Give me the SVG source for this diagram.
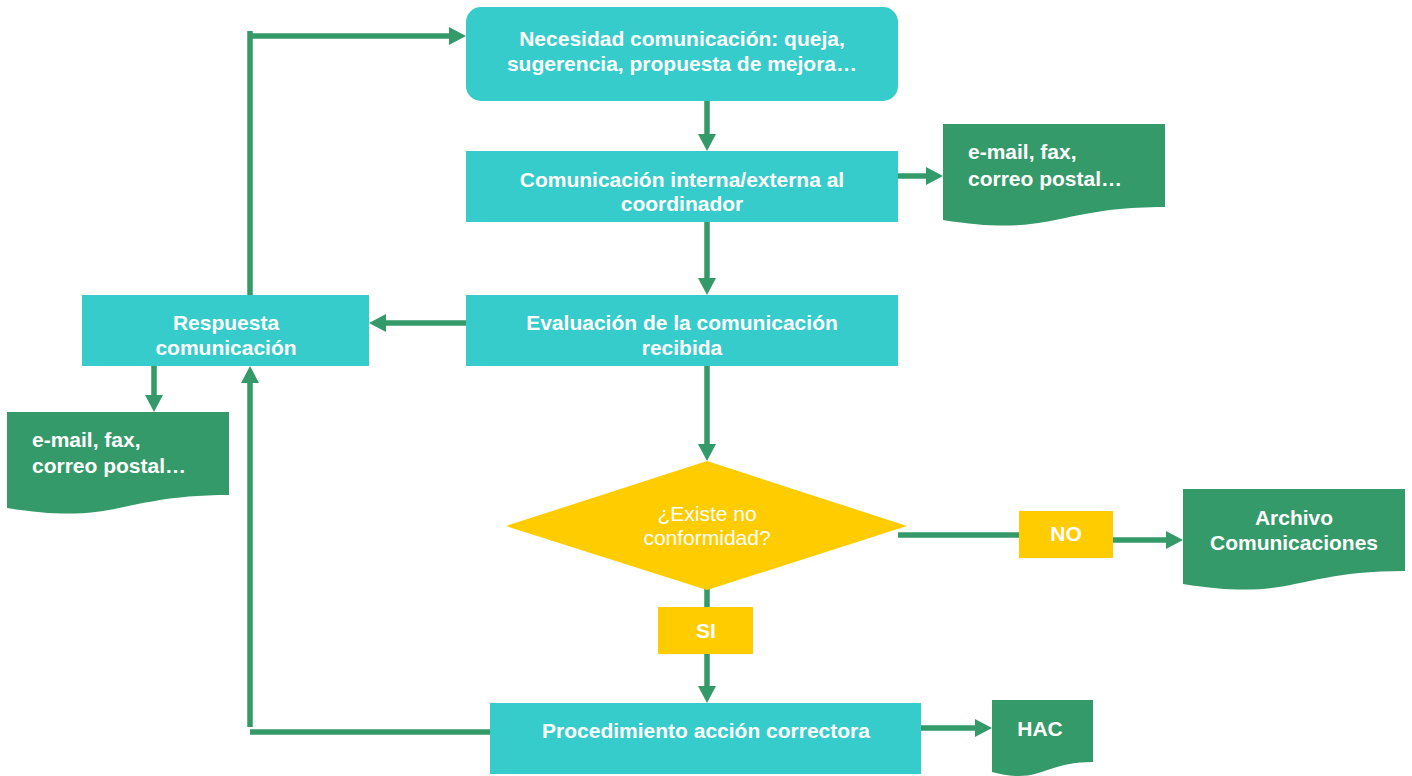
<svg xmlns="http://www.w3.org/2000/svg" width="1412" height="776" viewBox="0 0 1412 776">
<defs>
<style>
.box{fill:#36CCCC}
.doc{fill:#359A69}
.yel{fill:#FFCC00}
.t{font-family:"Liberation Sans",Arial,sans-serif;font-weight:bold;font-size:21px;fill:#FFFFFF;text-anchor:middle}
.tl{text-anchor:start}
.tn{font-family:"Liberation Sans",Arial,sans-serif;font-size:21px;fill:#FFFFFF;text-anchor:middle}
.c{fill:none;stroke:#359A69;stroke-width:5.5}
</style>
<marker id="ah" markerUnits="userSpaceOnUse" markerWidth="17" markerHeight="18" refX="0" refY="9" orient="auto">
<path d="M0,0 L17,9 L0,18 Z" fill="#359A69"/>
</marker>
</defs>
<rect width="1412" height="776" fill="#FFFFFF"/>
<g id="connectors">
<path class="c" d="M707,101 V134" marker-end="url(#ah)"/>
<path class="c" d="M897,176 H926" marker-end="url(#ah)"/>
<path class="c" d="M707,222 V278" marker-end="url(#ah)"/>
<path class="c" d="M466,323 H386" marker-end="url(#ah)"/>
<path class="c" d="M154,366 V395" marker-end="url(#ah)"/>
<path class="c" d="M707,366 V444" marker-end="url(#ah)"/>
<path class="c" d="M898,535 H1019"/>
<path class="c" d="M1113,540 H1166" marker-end="url(#ah)"/>
<path class="c" d="M707,583 V607"/>
<path class="c" d="M707,654 V686" marker-end="url(#ah)"/>
<path class="c" d="M921,728 H975" marker-end="url(#ah)"/>
<path class="c" d="M490,732 H250"/>
<path class="c" d="M250,727 V383" marker-end="url(#ah)"/>
<path class="c" d="M250,295 V31"/>
<path class="c" d="M250,36 H449" marker-end="url(#ah)"/>
</g>
<g id="n1">
<rect class="box" x="466" y="7" width="432" height="94" rx="15" ry="15"/>
<text class="t" x="682" y="46">Necesidad comunicación: queja,</text>
<text class="t" x="682" y="71">sugerencia, propuesta de mejora…</text>
</g>
<g id="n2">
<rect class="box" x="466" y="151" width="432" height="71"/>
<text class="t" x="682" y="187">Comunicación interna/externa al</text>
<text class="t" x="682" y="211">coordinador</text>
</g>
<g id="n3">
<rect class="box" x="466" y="295" width="432" height="71"/>
<text class="t" x="682" y="330">Evaluación de la comunicación</text>
<text class="t" x="682" y="355">recibida</text>
</g>
<g id="n4">
<rect class="box" x="82" y="295" width="287" height="71"/>
<text class="t" x="226" y="330">Respuesta</text>
<text class="t" x="226" y="355">comunicación</text>
</g>
<g id="d1">
<path class="doc" d="M943,124 H1165 V207 C1054,207 1054,238 943,220 Z"/>
<text class="t tl" x="968" y="159">e-mail, fax,</text>
<text class="t tl" x="968" y="186">correo postal…</text>
</g>
<g id="d2">
<path class="doc" d="M7,412 H229 V495 C118,495 118,526 7,508 Z"/>
<text class="t tl" x="32" y="447">e-mail, fax,</text>
<text class="t tl" x="32" y="473">correo postal…</text>
</g>
<g id="dec">
<polygon class="yel" points="707,461 907,526 707,590 506,526"/>
<text class="tn" x="707" y="521">¿Existe no</text>
<text class="tn" x="707" y="545">conformidad?</text>
</g>
<g id="no">
<rect class="yel" x="1019" y="511" width="94" height="47"/>
<text class="t" x="1066" y="541">NO</text>
</g>
<g id="si">
<rect class="yel" x="658" y="607" width="95" height="47"/>
<text class="t" x="706" y="638">SI</text>
</g>
<g id="d3">
<path class="doc" d="M1183,489 H1405 V571 C1294,571 1294,602 1183,584 Z"/>
<text class="t" x="1294" y="525">Archivo</text>
<text class="t" x="1294" y="550">Comunicaciones</text>
</g>
<g id="n5">
<rect class="box" x="490" y="703" width="431" height="71"/>
<text class="t" x="706" y="738">Procedimiento acción correctora</text>
</g>
<g id="d4">
<path class="doc" d="M992,700 H1093 V762 C1042,762 1042,785 992,772 Z"/>
<text class="t" x="1040" y="736">HAC</text>
</g>
</svg>
